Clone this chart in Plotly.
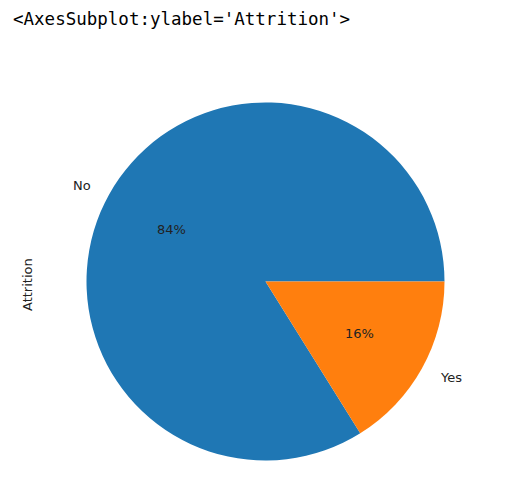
import math
import plotly.graph_objects as go

# Data
categories = ["No", "Yes"]
counts = [1233, 237]
colors = ["#1f77b4", "#ff7f0e"]
title_text = "<AxesSubplot:ylabel='Attrition'>"
ylabel_text = "Attrition"

# Layout constants (pixels, in page coordinates; page body has an 8px margin)
W, H = 509, 486
OFF = 8
cx, cy, r = 265.5 - OFF, 281.5 - OFF, 179.0

total = sum(counts)
# start No slice at 3 o'clock going counterclockwise (matplotlib default)
rotation = 90 - 360 * counts[0] / total

fig = go.Figure()
fig.add_trace(go.Pie(
    labels=categories,
    values=counts,
    sort=False,
    direction="counterclockwise",
    rotation=rotation,
    marker=dict(colors=colors, line=dict(width=0)),
    textinfo="none",
    hoverinfo="skip",
    showlegend=False,
    domain=dict(x=[(cx - r) / W, (cx + r) / W], y=[1 - (cy + r) / H, 1 - (cy - r) / H]),
))

annotations = []
start = 0.0
font_main = dict(family="DejaVu Sans", size=13, color="#222222")
for lab, v in zip(categories, counts):
    frac = v / total
    mid = (start + frac / 2) * 2 * math.pi
    start += frac
    lx = cx + 1.1 * r * math.cos(mid)
    ly = cy - 1.1 * r * math.sin(mid)
    annotations.append(dict(
        x=lx / W, y=1 - ly / H, xref="paper", yref="paper",
        text=lab, showarrow=False, font=font_main,
        xanchor="right" if math.cos(mid) < 0 else "left", yanchor="middle",
    ))
    px = cx + 0.6 * r * math.cos(mid)
    py = cy - 0.6 * r * math.sin(mid)
    annotations.append(dict(
        x=px / W, y=1 - py / H, xref="paper", yref="paper",
        text=f"{round(frac * 100):.0f}%", showarrow=False, font=font_main,
        xanchor="center", yanchor="middle",
    ))

annotations.append(dict(
    x=(27 - OFF) / W, y=1 - (285 - OFF) / H, xref="paper", yref="paper",
    text=ylabel_text, textangle=-90, showarrow=False, font=font_main,
    xanchor="center", yanchor="middle",
))
annotations.append(dict(
    x=(13 - OFF - 2) / W, y=1 - (19 - OFF) / H, xref="paper", yref="paper",
    text=title_text.replace("<", "&lt;").replace(">", "&gt;"), showarrow=False,
    font=dict(family="DejaVu Sans Mono", size=17.5, color="#000000"),
    xanchor="left", yanchor="middle",
))

fig.update_layout(
    width=W, height=H,
    margin=dict(l=0, r=0, t=0, b=0),
    paper_bgcolor="white", plot_bgcolor="white",
    annotations=annotations,
)

fig.write_html("out.html")
